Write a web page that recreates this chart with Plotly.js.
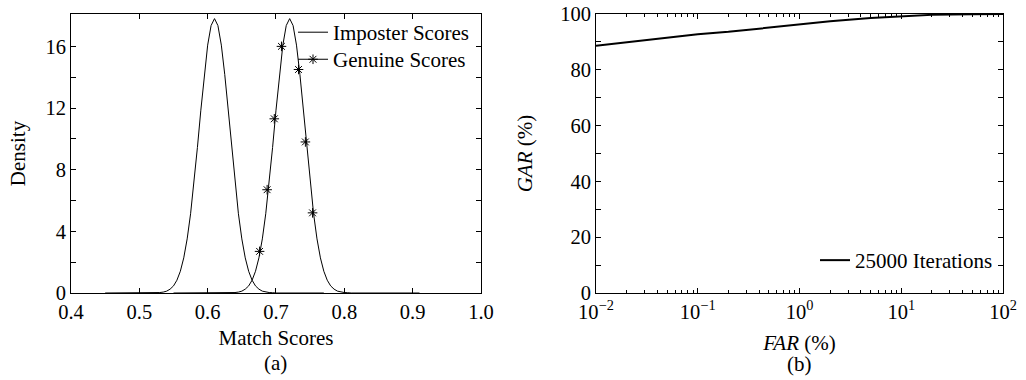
<!DOCTYPE html>
<html>
<head>
<meta charset="utf-8">
<script src="https://cdn.plot.ly/plotly-3.0.1.min.js"></script>
<style>html,body{margin:0;padding:0;background:#fff}#chart{width:1026px;height:380px}</style>
</head>
<body>
<div id="chart"></div>
<script>
// ---- (a) score densities ----
const imposterX = [0.45, 0.52, 0.525, 0.53, 0.535, 0.54, 0.545, 0.55, 0.555, 0.56, 0.565, 0.57, 0.575, 0.58, 0.585, 0.59, 0.595, 0.60, 0.605, 0.61, 0.615, 0.62, 0.625, 0.63, 0.635, 0.64, 0.645, 0.65, 0.655, 0.66, 0.665, 0.67, 0.675, 0.68, 0.685, 0.69, 0.695, 0.70, 0.77];
const imposterY = [0, 0, 0.02, 0.03, 0.06, 0.12, 0.25, 0.46, 0.83, 1.41, 2.28, 3.51, 5.14, 7.14, 9.44, 11.86, 14.17, 16.08, 17.35, 17.8, 17.35, 16.08, 14.17, 11.86, 9.44, 7.14, 5.14, 3.51, 2.28, 1.41, 0.83, 0.46, 0.25, 0.12, 0.06, 0.03, 0.02, 0, 0];
const genuineX = [0.55, 0.63, 0.635, 0.64, 0.645, 0.65, 0.655, 0.66, 0.665, 0.67, 0.675, 0.68, 0.685, 0.69, 0.695, 0.70, 0.705, 0.71, 0.715, 0.72, 0.725, 0.73, 0.735, 0.74, 0.745, 0.75, 0.755, 0.76, 0.765, 0.77, 0.775, 0.78, 0.785, 0.79, 0.795, 0.80, 0.805, 0.81, 0.91];
const genuineY = [0, 0, 0.02, 0.03, 0.06, 0.12, 0.25, 0.46, 0.83, 1.41, 2.28, 3.51, 5.14, 7.14, 9.44, 11.86, 14.17, 16.08, 17.35, 17.8, 17.35, 16.08, 14.17, 11.86, 9.44, 7.14, 5.14, 3.51, 2.28, 1.41, 0.83, 0.46, 0.25, 0.12, 0.06, 0.03, 0.02, 0, 0];
const genuineMarkX = [0.676, 0.687, 0.6975, 0.708, 0.733, 0.743, 0.7535];
const genuineMarkY = [2.7, 6.7, 11.3, 16.0, 14.5, 9.8, 5.2];
const scoreTicks = [0.4, 0.5, 0.6, 0.7, 0.8, 0.9, 1.0];
const scoreTickText = ['0.4', '0.5', '0.6', '0.7', '0.8', '0.9', '1.0'];
const densityTicks = [0, 4, 8, 12, 16];
const densityTickText = ['0', '4', '8', '12', '16'];
const densityMinor = [2, 6, 10, 14];

// ---- (b) ROC ----
const farX = [0.01, 0.02, 0.03, 0.05, 0.1, 0.2, 0.5, 1, 2, 5, 10, 20, 50, 100];
const garY = [88.6, 89.9, 90.6, 91.5, 92.7, 93.6, 95.1, 96.4, 97.4, 98.6, 99.1, 99.7, 99.95, 100];
const farTicks = [0.01, 0.1, 1, 10, 100];
const farTickText = ['10<sup>\u22122</sup>', '10<sup>\u22121</sup>', '10<sup>0</sup>', '10<sup>1</sup>', '10<sup>2</sup>'];
const farMinor = [0.02,0.03,0.04,0.05,0.06,0.07,0.08,0.09,0.2,0.3,0.4,0.5,0.6,0.7,0.8,0.9,2,3,4,5,6,7,8,9,20,30,40,50,60,70,80,90];
const garTicks = [0, 20, 40, 60, 80, 100];
const garTickText = ['0', '20', '40', '60', '80', '100'];
const garMinor = [10, 30, 50, 70, 90];

const FONT = 'Liberation Serif, Times New Roman, serif';
const font = {family: FONT, size: 21, color: '#000'};
const tickFont = {family: FONT, size: 20.5, color: '#000'};

const traces = [
  {x: imposterX, y: imposterY, xaxis: 'x', yaxis: 'y', mode: 'lines', name: 'Imposter Scores',
   line: {color: '#000', width: 1}, legend: 'legend'},
  {x: genuineX, y: genuineY, xaxis: 'x', yaxis: 'y', mode: 'lines', name: 'Genuine Scores',
   line: {color: '#000', width: 1}, showlegend: false},
  {x: genuineMarkX, y: genuineMarkY, xaxis: 'x', yaxis: 'y', mode: 'markers', name: 'Genuine Scores',
   marker: {symbol: 'asterisk-open', size: 8, color: '#000', line: {color: '#000', width: 1}}, showlegend: false},
  {x: [null], y: [null], xaxis: 'x', yaxis: 'y', mode: 'lines+markers', name: 'Genuine Scores',
   line: {color: '#000', width: 1},
   marker: {symbol: 'asterisk-open', size: 8, color: '#000', line: {color: '#000', width: 1}}, legend: 'legend3'},
  {x: farX, y: garY, xaxis: 'x2', yaxis: 'y2', mode: 'lines', name: '25000 Iterations',
   line: {color: '#000', width: 2}, legend: 'legend2'}
];

const axBase = {
  showline: true, linecolor: '#000', linewidth: 1, mirror: 'ticks',
  ticks: 'inside', ticklen: 5, tickwidth: 1, tickcolor: '#000',
  showgrid: false, zeroline: false, tickfont: tickFont, fixedrange: true
};
const minorBase = {ticks: 'inside', ticklen: 5, tickwidth: 1, tickcolor: '#000', showgrid: false};

const legBase = {xanchor: 'left', yanchor: 'top', bgcolor: 'rgba(0,0,0,0)', borderwidth: 0, font: font};

const layout = {
  width: 1026, height: 380,
  margin: {l: 71, r: 23, t: 14, b: 87},
  paper_bgcolor: '#fff', plot_bgcolor: '#fff',
  font: font,
  xaxis: Object.assign({}, axBase, {
    domain: [0, 0.4399], range: [0.4, 1.0], anchor: 'y',
    tickmode: 'array', tickvals: scoreTicks, ticktext: scoreTickText,
    title: {text: 'Match Scores', font: font, standoff: 8}
  }),
  yaxis: Object.assign({}, axBase, {
    domain: [0, 1], range: [0, 18.1], anchor: 'x',
    tickmode: 'array', tickvals: densityTicks, ticktext: densityTickText,
    minor: Object.assign({tickmode: 'array', tickvals: densityMinor}, minorBase),
    title: {text: 'Density', font: font, standoff: 14}
  }),
  xaxis2: Object.assign({}, axBase, {
    domain: [0.5633, 1], type: 'log', range: [-2, 2], anchor: 'y2',
    tickmode: 'array', tickvals: farTicks, ticktext: farTickText,
    minor: Object.assign({tickmode: 'array', tickvals: farMinor}, minorBase, {ticklen: 3}),
    title: {text: '<i>FAR</i> (%)', font: font, standoff: 13}
  }),
  yaxis2: Object.assign({}, axBase, {
    domain: [0, 1], range: [0, 100], anchor: 'x2',
    tickmode: 'array', tickvals: garTicks, ticktext: garTickText,
    minor: Object.assign({tickmode: 'array', tickvals: garMinor}, minorBase),
    title: {text: '<i>GAR</i> (%)', font: font, standoff: 21}
  }),
  legend: Object.assign({x: 0.2382, y: 1.007}, legBase),
  legend3: Object.assign({x: 0.2382, y: 0.910}, legBase),
  legend2: Object.assign({x: 0.7983, y: 0.19}, legBase),
  annotations: [
    {text: '(a)', xref: 'paper', yref: 'paper', x: 0.21995, y: -0.250, xanchor: 'center', yanchor: 'middle',
     showarrow: false, font: font},
    {text: '(b)', xref: 'paper', yref: 'paper', x: 0.78165, y: -0.255, xanchor: 'center', yanchor: 'middle',
     showarrow: false, font: font}
  ]
};

Plotly.newPlot('chart', traces, layout, {displayModeBar: false, staticPlot: true});
</script>
</body>
</html>
